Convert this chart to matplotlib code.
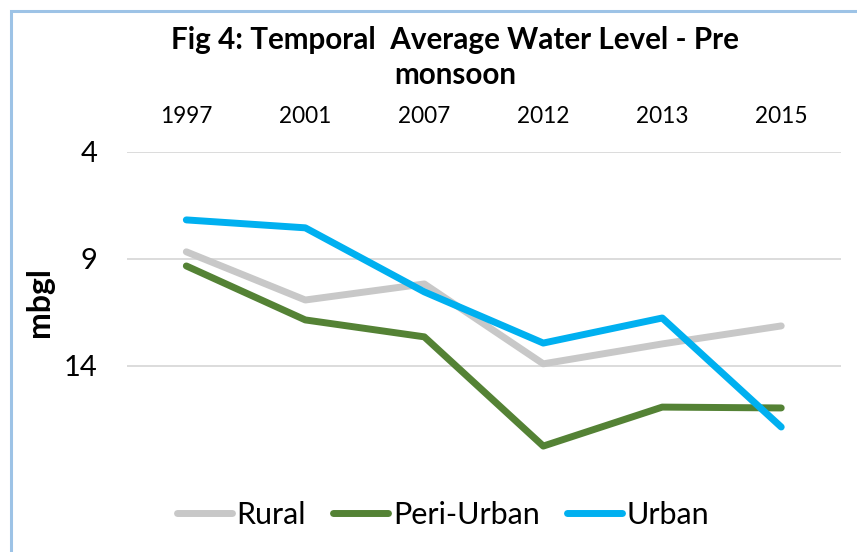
import matplotlib.pyplot as plt
from matplotlib.patches import Rectangle

plt.rcParams['font.family'] = ['Lato', 'DejaVu Sans']

# Datos (mbgl, eje invertido)
years = ["1997", "2001", "2007", "2012", "2013", "2015"]
rural = [8.67, 10.92, 10.17, 13.9, 12.97, 12.13]
peri_urban = [9.33, 11.85, 12.64, 17.74, 15.92, 15.96]
urban = [7.18, 7.55, 10.54, 12.93, 11.76, 16.85]

fig = plt.figure(figsize=(8.57, 5.52), dpi=100)
ax = fig.add_axes([0.148, 0.143, 0.833, 0.582])

x = range(len(years))
ax.plot(x, rural, color="#C8C8C8", lw=5, solid_capstyle="round", solid_joinstyle="round", label="Rural")
ax.plot(x, peri_urban, color="#548235", lw=5, solid_capstyle="round", solid_joinstyle="round", label="Peri-Urban")
ax.plot(x, urban, color="#00B0F0", lw=5, solid_capstyle="round", solid_joinstyle="round", label="Urban")

ax.set_xlim(-0.5, len(years) - 0.5)
ax.set_ylim(19, 4)
ax.set_yticks([4, 9, 14])
ax.set_xticks(list(x))
ax.set_xticklabels(years)
ax.xaxis.tick_top()
ax.tick_params(axis="x", length=0, pad=18, labelsize=16.3)
ax.tick_params(axis="y", length=0, pad=21, labelsize=21)
ax.grid(axis="y", color="#D9D9D9", lw=1.3)
ax.set_axisbelow(True)
for s in ax.spines.values():
    s.set_visible(False)

fig.text(40 / 857, 1 - 302 / 552, "mbgl", rotation=90, fontsize=23, fontweight="bold",
         ha="center", va="center")
# título en dos líneas, posicionadas por separado
fig.text(455 / 857, 1 - 40 / 552, "Fig 4: Temporal  Average Water Level - Pre",
         fontsize=21.3, fontweight="bold", ha="center", va="center")
fig.text(455 / 857, 1 - 75 / 552, "monsoon",
         fontsize=21.3, fontweight="bold", ha="center", va="center")

leg = ax.legend(loc="center", bbox_to_anchor=(443 / 857, 1 - 515 / 552), bbox_transform=fig.transFigure,
                ncol=3, frameon=False, fontsize=22, handlelength=1.8, handletextpad=0.15,
                columnspacing=0.9)

# borde azul claro del área del gráfico
fig.patches.append(Rectangle((11 / 857, -0.1), 1.2, 1 - 11 / 552 + 0.1, transform=fig.transFigure,
                             fill=False, edgecolor="#9DC3E6", lw=2.2))

fig.savefig("out.png", dpi=100)
